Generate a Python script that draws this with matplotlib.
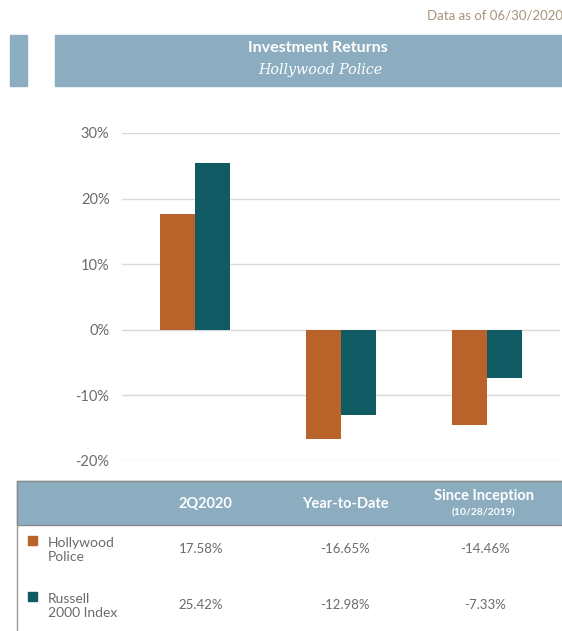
import matplotlib
matplotlib.use('Agg')
import matplotlib.pyplot as plt
import numpy as np
from matplotlib.patches import Rectangle

# data
periods = ['2Q2020', 'Year-to-Date', 'Since Inception']
period_sub = ['', '', '(10/28/2019)']
hollywood = [17.58, -16.65, -14.46]
russell = [25.42, -12.98, -7.33]
series_names = ['Hollywood\nPolice', 'Russell\n2000 Index']
yticks = [-20, -10, 0, 10, 20, 30]

orange = '#b9622a'
teal = '#0f5a63'
banner = '#8badbf'
grey_txt = '#6b6b6b'

W, H = 562, 631
fig = plt.figure(figsize=(W/100, H/100), dpi=100)
plt.rcParams['font.family'] = ['Lato', 'DejaVu Sans']

def fx(px):
    return px / W
def fy(py):
    return 1 - py / H

# header
fig.text(fx(563), fy(15), 'Data as of 06/30/2020', ha='right', va='center',
         fontsize=9.5, color='#a8927a')
fig.patches.append(Rectangle((fx(10), fy(86)), fx(17), (86-35)/H,
                             transform=fig.transFigure, color=banner))
fig.patches.append(Rectangle((fx(55), fy(86)), fx(510), (86-35)/H,
                             transform=fig.transFigure, color=banner))
fig.text(fx(318), fy(48), 'Investment Returns', ha='center', va='center',
         fontsize=11.5, color='white', fontweight='bold')
fig.text(fx(320), fy(70), 'Hollywood Police', ha='center', va='center',
         fontsize=10.3, color='white', style='italic', family='DejaVu Serif')

# chart
ax = fig.add_axes([fx(122), fy(461), (560-122)/W, (461-133)/H])
x = np.arange(len(periods))
w = 0.24
ax.bar(x - w/2, hollywood, w, color=orange, zorder=3)
ax.bar(x + w/2, russell, w, color=teal, zorder=3)
ax.set_xlim(-0.5, 2.5)
ax.set_ylim(-20, 30)
ax.set_yticks(yticks)
ax.set_yticklabels([f'{t}%' for t in yticks], fontsize=10.5, color=grey_txt)
ax.set_xticks([])
ax.tick_params(axis='y', length=0, pad=9)
ax.grid(axis='y', color='#d9d9d9', linewidth=1, zorder=0)
for s in ax.spines.values():
    s.set_visible(False)

# table
fig.patches.append(Rectangle((fx(17), fy(640)), fx(560), (640-481)/H,
                             transform=fig.transFigure, facecolor='white',
                             edgecolor='#9a9a9a', linewidth=1))
fig.patches.append(Rectangle((fx(17), fy(525)), fx(560), (525-481)/H,
                             transform=fig.transFigure, facecolor=banner,
                             edgecolor='#8a8a8a', linewidth=1))
col_x = [205, 345, 484]
for cx, p, sub in zip(col_x, periods, period_sub):
    if sub:
        fig.text(fx(cx), fy(496), p, ha='center', va='center', fontsize=10.5,
                 color='white', fontweight='bold')
        fig.text(fx(cx), fy(513), sub, ha='center', va='center', fontsize=7.5,
                 color='white', fontweight='bold')
    else:
        fig.text(fx(cx), fy(504), p, ha='center', va='center', fontsize=10.5,
                 color='white', fontweight='bold')

val_x = [201, 345, 485]
row_y = [550, 606]
val_y = [549, 605]
for ry, vy, name, col, vals in zip(row_y, val_y, series_names, [orange, teal],
                                   [hollywood, russell]):
    fig.patches.append(Rectangle((fx(28), fy(ry - 5)), fx(9), 9/H,
                                 transform=fig.transFigure, color=col))
    fig.text(fx(48), fy(ry), name, ha='left', va='center', fontsize=10,
             color=grey_txt, linespacing=1.15)
    for cx, v in zip(val_x, vals):
        fig.text(fx(cx), fy(vy), f'{v:.2f}%', ha='center', va='center',
                 fontsize=9.5, color=grey_txt)

fig.savefig('out.png', dpi=100)
